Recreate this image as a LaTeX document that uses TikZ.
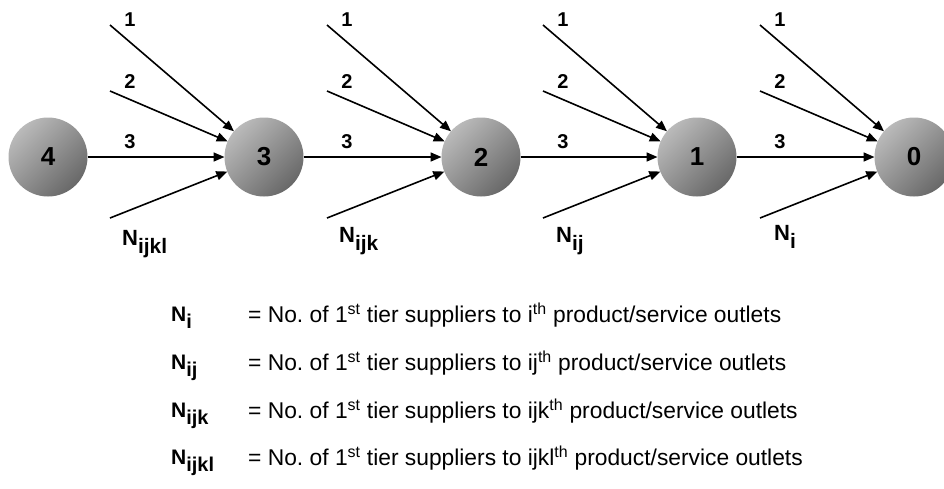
\documentclass[tikz,border=0pt]{standalone}
\usepackage{fontspec}
\usepackage{graphicx}
\setmainfont{Liberation Sans}
\usetikzlibrary{arrows.meta}
\definecolor{ballhi}{RGB}{186,186,186}
\definecolor{balllo}{RGB}{104,104,104}
% lowered, nearly full size subscript
\newcommand{\lsub}[1]{\raisebox{-0.37em}{\scalebox{0.95}{#1}}}
\tikzset{
  tier/.style={circle, minimum size=79pt, inner sep=0pt, outer sep=0pt,
    top color=ballhi, bottom color=balllo, shading angle=45,
    font=\fontsize{26}{26}\selectfont\bfseries},
  feed/.style={line width=1.6pt, -{Triangle[length=11pt,width=9pt]}},
  num/.style={inner sep=0pt, font=\fontsize{20}{20}\selectfont\bfseries},
  sup/.style={anchor=base west, inner sep=0pt, font=\fontsize{22}{22}\selectfont\bfseries},
  key/.style={anchor=base west, inner sep=0pt, font=\fontsize{21}{21}\selectfont\bfseries},
  keytext/.style={anchor=base west, inner sep=0pt, font=\fontsize{22.8}{22.8}\selectfont}
}
\begin{document}
\frenchspacing
\begin{tikzpicture}[x=1pt,y=-1pt]
\useasboundingbox (0,0) rectangle (944,488);

\node[tier] (n4) at (48,157) {4};
\node[tier] (n3) at (264,157) {3};
\node[tier] (n2) at (481,157) {2};
\node[tier] (n1) at (697,157) {1};
\node[tier] (n0) at (914,157) {0};

\coordinate (a1) at (110,25);
\coordinate (a2) at (110,91);
\coordinate (a4) at (110,218);
\coordinate (b1) at (327,25);
\coordinate (b2) at (327,91);
\coordinate (b4) at (327,218);
\coordinate (c1) at (543,25);
\coordinate (c2) at (543,91);
\coordinate (c4) at (543,218);
\coordinate (d1) at (760,25);
\coordinate (d2) at (760,91);
\coordinate (d4) at (760,218);

\draw[feed] (a1) -- (n3);
\draw[feed] (a2) -- (n3);
\draw[feed] (n4) -- (n3);
\draw[feed] (a4) -- (n3);

\draw[feed] (b1) -- (n2);
\draw[feed] (b2) -- (n2);
\draw[feed] (n3) -- (n2);
\draw[feed] (b4) -- (n2);

\draw[feed] (c1) -- (n1);
\draw[feed] (c2) -- (n1);
\draw[feed] (n2) -- (n1);
\draw[feed] (c4) -- (n1);

\draw[feed] (d1) -- (n0);
\draw[feed] (d2) -- (n0);
\draw[feed] (n1) -- (n0);
\draw[feed] (d4) -- (n0);

\node[num] (a1l) at (130,19.5) {1};
\node[num] (a2l) at (130,82) {2};
\node[num] (a3l) at (130,141.5) {3};
\node[num] (b1l) at (347,19.5) {1};
\node[num] (b2l) at (347,82) {2};
\node[num] (b3l) at (347,141.5) {3};
\node[num] (c1l) at (563,19.5) {1};
\node[num] (c2l) at (563,82) {2};
\node[num] (c3l) at (563,141.5) {3};
\node[num] (d1l) at (780,19.5) {1};
\node[num] (d2l) at (780,82) {2};
\node[num] (d3l) at (780,141.5) {3};

\node[sup] (na) at (122,245) {N\lsub{ijkl}};
\node[sup] (nb) at (339,242) {N\lsub{ijk}};
\node[sup] (nc) at (556,242) {N\lsub{ij}};
\node[sup] (nd) at (774,240) {N\lsub{i}};

\node[key] (k1) at (171,321) {N\lsub{i}};
\node[key] (k2) at (171,369) {N\lsub{ij}};
\node[key] (k3) at (171,417) {N\lsub{ijk}};
\node[key] (k4) at (171,464) {N\lsub{ijkl}};
\node[keytext] (t1) at (248,322) {= No. of 1\textsuperscript{st} tier suppliers to i\textsuperscript{th} product/service outlets};
\node[keytext] (t2) at (248,370) {= No. of 1\textsuperscript{st} tier suppliers to ij\textsuperscript{th} product/service outlets};
\node[keytext] (t3) at (248,418) {= No. of 1\textsuperscript{st} tier suppliers to ijk\textsuperscript{th} product/service outlets};
\node[keytext] (t4) at (248,465) {= No. of 1\textsuperscript{st} tier suppliers to ijkl\textsuperscript{th} product/service outlets};
\end{tikzpicture}
\end{document}
